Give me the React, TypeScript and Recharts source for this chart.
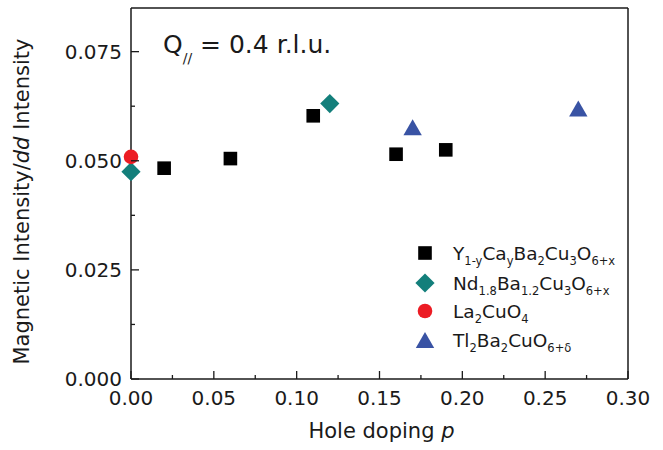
import React from 'react';
import { ScatterChart, Scatter, XAxis, YAxis, Legend } from 'recharts';

const FONT = '"DejaVu Sans", "Liberation Sans", Arial, sans-serif';
const INK = '#1a1a1a';

// ---- data ----
const ycbcoDoping = [0.02, 0.06, 0.11, 0.16, 0.19];
const ycbcoRatio = [0.0483, 0.0505, 0.0603, 0.0515, 0.0525];
const ndbcoDoping = [0.0, 0.12];
const ndbcoRatio = [0.0475, 0.0631];
const lcoDoping = [0.0];
const lcoRatio = [0.0509];
const tbcoDoping = [0.17, 0.27];
const tbcoRatio = [0.0577, 0.062];

const xTicks = [0, 0.025, 0.05, 0.075, 0.1, 0.125, 0.15, 0.175, 0.2, 0.225, 0.25, 0.275, 0.3];
const yTicks = [0, 0.0125, 0.025, 0.0375, 0.05, 0.0625, 0.075];
const xDomain: [number, number] = [0, 0.3];
const yDomain: [number, number] = [0, 0.085];

const toPoints = (xs: number[], ys: number[]) => xs.map((p, i) => ({ p, v: ys[i] }));
const isMajor = (v: number, step: number) => Math.abs(v / step - Math.round(v / step)) < 1e-6;

// ---- markers ----
const SquareMark = ({ cx, cy, color }: any) => (
  <rect x={cx - 6.8} y={cy - 6.8} width={13.6} height={13.6} fill={color} />
);
const DiamondMark = ({ cx, cy, color }: any) => (
  <path d={`M${cx},${cy - 9.6}L${cx + 9.6},${cy}L${cx},${cy + 9.6}L${cx - 9.6},${cy}Z`} fill={color} />
);
const CircleMark = ({ cx, cy, color }: any) => <circle cx={cx} cy={cy} r={7.3} fill={color} />;
const TriangleMark = ({ cx, cy, color }: any) => (
  <path d={`M${cx},${cy - 8}L${cx + 9.2},${cy + 8}L${cx - 9.2},${cy + 8}Z`} fill={color} />
);

type Part = [string, boolean];
const series = [
  {
    key: 'ycbco',
    data: toPoints(ycbcoDoping, ycbcoRatio),
    color: '#000000',
    Mark: SquareMark,
    label: [['Y', false], ['1-y', true], ['Ca', false], ['y', true], ['Ba', false], ['2', true], ['Cu', false], ['3', true], ['O', false], ['6+x', true]] as Part[],
  },
  {
    key: 'ndbco',
    data: toPoints(ndbcoDoping, ndbcoRatio),
    color: '#137f7b',
    Mark: DiamondMark,
    label: [['Nd', false], ['1.8', true], ['Ba', false], ['1.2', true], ['Cu', false], ['3', true], ['O', false], ['6+x', true]] as Part[],
  },
  {
    key: 'lco',
    data: toPoints(lcoDoping, lcoRatio),
    color: '#ec1c24',
    Mark: CircleMark,
    label: [['La', false], ['2', true], ['CuO', false], ['4', true]] as Part[],
  },
  {
    key: 'tbco',
    data: toPoints(tbcoDoping, tbcoRatio),
    color: '#3953a4',
    Mark: TriangleMark,
    label: [['Tl', false], ['2', true], ['Ba', false], ['2', true], ['CuO', false], ['6+δ', true]] as Part[],
  },
];

// ---- ticks ----
const LEFT_GAP = 9;
const LeftTick = (props: any) => {
  const { x, y, payload } = props;
  const v = payload.value;
  const major = isMajor(v, 0.025);
  const ax = x + LEFT_GAP;
  return (
    <g>
      <line x1={ax} x2={ax + (major ? 8 : 4)} y1={y} y2={y} stroke={INK} strokeWidth={1.3} />
      {major && (
        <text x={x} y={y + 7} textAnchor="end" fontSize={20} fontFamily={FONT} fill={INK}>
          {v.toFixed(3)}
        </text>
      )}
    </g>
  );
};
const RightTick = (props: any) => {
  const { x, y, payload } = props;
  const major = isMajor(payload.value, 0.025);
  return <line x1={x} x2={x - (major ? 8 : 4)} y1={y} y2={y} stroke={INK} strokeWidth={1.3} />;
};
const BottomTick = (props: any) => {
  const { x, y, payload } = props;
  const v = payload.value;
  const major = isMajor(v, 0.05);
  return (
    <g>
      <line x1={x} x2={x} y1={y} y2={y - (major ? 8 : 4)} stroke={INK} strokeWidth={1.3} />
      {major && (
        <text x={x} y={y + 26} textAnchor="middle" fontSize={20} fontFamily={FONT} fill={INK}>
          {v.toFixed(2)}
        </text>
      )}
    </g>
  );
};
const TopTick = (props: any) => {
  const { x, y, payload } = props;
  const major = isMajor(payload.value, 0.05);
  return <line x1={x} x2={x} y1={y} y2={y + (major ? 8 : 4)} stroke={INK} strokeWidth={1.3} />;
};

// ---- legend ----
const FormulaText = ({ x, y, parts, size, subSize }: any) => {
  let shifted = false;
  return (
    <text x={x} y={y} fontSize={size} fontFamily={FONT} fill={INK}>
      {parts.map(([t, sub]: Part, i: number) => {
        let dy = 0;
        if (sub && !shifted) { dy = 5; shifted = true; }
        else if (!sub && shifted) { dy = -5; shifted = false; }
        return (
          <tspan key={i} dy={dy} fontSize={sub ? subSize : size}>{t}</tspan>
        );
      })}
    </text>
  );
};

const LEG_LEFT = 400;
const LEG_TOP = 230;
const legendRows = [253, 283, 311, 340];
const renderLegend = () => (
  <svg width={260} height={130} style={{ overflow: 'visible', display: 'block' }}>
    {series.map((s, i) => {
      const cy = legendRows[i] - LEG_TOP;
      const M = s.Mark;
      return (
        <g key={s.key}>
          <M cx={425 - LEG_LEFT} cy={cy} color={s.color} />
          <FormulaText x={453 - LEG_LEFT} y={cy + 7} parts={s.label} size={18.5} subSize={11.5} />
        </g>
      );
    })}
  </svg>
);

export default function App() {
  return (
    <div style={{ position: 'absolute', left: 0, top: 0, width: 663, height: 450, background: '#fff' }}>
      <ScatterChart width={663} height={450} margin={{ top: 7, right: 34, bottom: 0, left: 0 }}>
        <XAxis
          xAxisId="b"
          dataKey="p"
          type="number"
          domain={xDomain}
          ticks={xTicks}
          interval={0}
          orientation="bottom"
          height={71}
          tickSize={0}
          tickMargin={0}
          tickLine={false}
          axisLine={{ stroke: INK, strokeWidth: 1.5 }}
          tick={<BottomTick />}
        />
        <XAxis
          xAxisId="t"
          dataKey="p"
          type="number"
          domain={xDomain}
          ticks={xTicks}
          interval={0}
          orientation="top"
          height={1}
          tickSize={0}
          tickMargin={0}
          tickLine={false}
          axisLine={{ stroke: INK, strokeWidth: 1.5 }}
          tick={<TopTick />}
        />
        <YAxis
          yAxisId="l"
          dataKey="v"
          type="number"
          domain={yDomain}
          ticks={yTicks}
          interval={0}
          width={131}
          tickSize={0}
          tickMargin={LEFT_GAP}
          tickLine={false}
          axisLine={{ stroke: INK, strokeWidth: 1.5 }}
          tick={<LeftTick />}
        />
        <YAxis
          yAxisId="r"
          dataKey="v"
          type="number"
          domain={yDomain}
          ticks={yTicks}
          interval={0}
          orientation="right"
          width={1}
          tickSize={0}
          tickMargin={0}
          tickLine={false}
          axisLine={{ stroke: INK, strokeWidth: 1.5 }}
          tick={<RightTick />}
        />
        {series.map((s) => (
          <Scatter
            key={s.key}
            name={s.key}
            data={s.data}
            xAxisId="b"
            yAxisId="l"
            fill={s.color}
            isAnimationActive={false}
            shape={(p: any) => <s.Mark cx={p.cx} cy={p.cy} color={s.color} />}
          />
        ))}
        <Legend
          layout="horizontal"
          align="center"
          verticalAlign="middle"
          content={renderLegend}
          wrapperStyle={{ position: 'absolute', left: LEG_LEFT, top: LEG_TOP, width: 260, height: 130 }}
        />
      </ScatterChart>
      <svg
        width={663}
        height={450}
        style={{ position: 'absolute', left: 0, top: 0, pointerEvents: 'none' }}
      >
        <text x={163} y={53} fontSize={25} fontFamily={FONT} fill={INK}>
          <tspan>Q</tspan>
          <tspan fontSize={14} dy={10}>//</tspan>
          <tspan dy={-10}> = 0.4 r.l.u.</tspan>
        </text>
        <text
          transform="translate(29,201.5) rotate(-90)"
          textAnchor="middle"
          fontSize={21}
          fontFamily={FONT}
          fill={INK}
        >
          Magnetic Intensity/<tspan fontStyle="italic">dd</tspan> Intensity
        </text>
        <text x={381.5} y={438} textAnchor="middle" fontSize={21} fontFamily={FONT} fill={INK}>
          Hole doping <tspan fontStyle="italic">p</tspan>
        </text>
      </svg>
    </div>
  );
}
